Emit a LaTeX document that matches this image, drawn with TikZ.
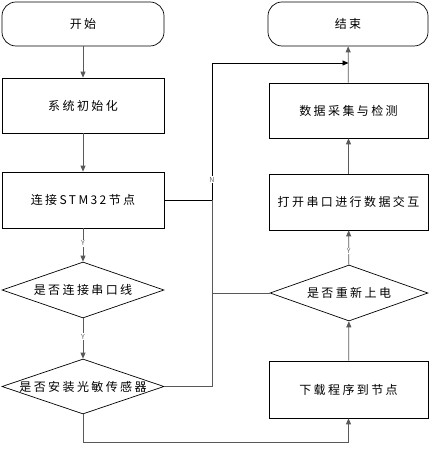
\documentclass[tikz,border=0pt]{standalone}
\usepackage{fontspec}
\setmainfont{Noto Sans CJK SC}
\newfontfamily\cnsp[LetterSpace=20]{Noto Sans CJK SC}
\usetikzlibrary{shapes.geometric,arrows.meta}
\begin{document}
\begin{tikzpicture}[x=1pt,y=-1pt,
  box/.style={draw=black,line width=0.7pt,rectangle,minimum width=162pt,minimum height=55pt,inner sep=0pt,font=\cnsp\fontsize{12}{14}\selectfont},
  term/.style={box,rounded corners=14pt,minimum height=44pt},
  dia/.style={draw=black,line width=0.7pt,diamond,minimum width=162pt,minimum height=56pt,inner sep=0pt},
  dtext/.style={font=\cnsp\fontsize{12}{14}\selectfont},
  conn/.style={draw=black!65,line width=0.8pt},
  arr/.style={conn,-{Triangle[length=6pt,width=5pt]}},
  yn/.style={fill=white,inner sep=0.6pt,text=black!60,font=\fontsize{7}{8}\selectfont}]
\useasboundingbox (0,0) rectangle (435,454);
% left column
\node[term] (start) at (83,24) {开始};
\node[box] (init) at (83,105.5) {系统初始化};
\node[box,minimum height=56pt] (link) at (83,200) {连接STM32节点};
\node[dia] (d1) at (83,290) {};
\node[dtext] at (d1.center) {是否连接串口线};
\node[dia,minimum height=55pt] (d2) at (83,386.5) {};
\node[dtext] at (d2.center) {是否安装光敏传感器};
% right column
\node[term,minimum width=160pt] (stop) at (348,24) {结束};
\node[box,minimum width=159pt] (acq) at (348.5,110.5) {数据采集与检测};
\node[box,minimum width=159pt,minimum height=56pt] (open) at (348.5,202) {打开串口进行数据交互};
\node[dia,minimum width=158pt] (d3) at (349,293) {};
\node[dtext] at (d3.center) {是否重新上电};
\node[box,minimum width=159pt,minimum height=57pt] (dl) at (348.5,389.5) {下载程序到节点};
% helper coordinates
\coordinate (jtop) at (212,63);
\coordinate (jlink) at (212,200);
\coordinate (jd2) at (212,386.5);
\coordinate (jd3) at (212,293);
\coordinate (jin) at (348.5,63);
\coordinate (bl) at (83,442);
\coordinate (br) at (348.5,442);
% connectors
\draw[arr] (start) -- (init);
\draw[arr] (init) -- (link);
\draw[arr] (link) -- node[yn,pos=0.45]{Y} (d1);
\draw[arr] (d1) -- node[yn,pos=0.45]{Y} (d2);
\draw[conn,draw=black] (link.east) -- (jlink);
\draw[conn] (d2.east) -- (jd2) -- (jlink);
\draw[arr,draw=black] (jlink) -- node[yn,pos=0.15]{N} (jtop) -- (jin);
\draw[conn] (d3.west) -- (jd3);
\draw[arr] (d2.south) -- (bl) -- (br) -- (dl.south);
\draw[arr] (dl) -- (d3);
\draw[arr] (d3) -- node[yn,pos=0.4]{Y} (open);
\draw[arr] (open) -- (acq);
\draw[arr] (acq) -- (stop);
\end{tikzpicture}
\end{document}
